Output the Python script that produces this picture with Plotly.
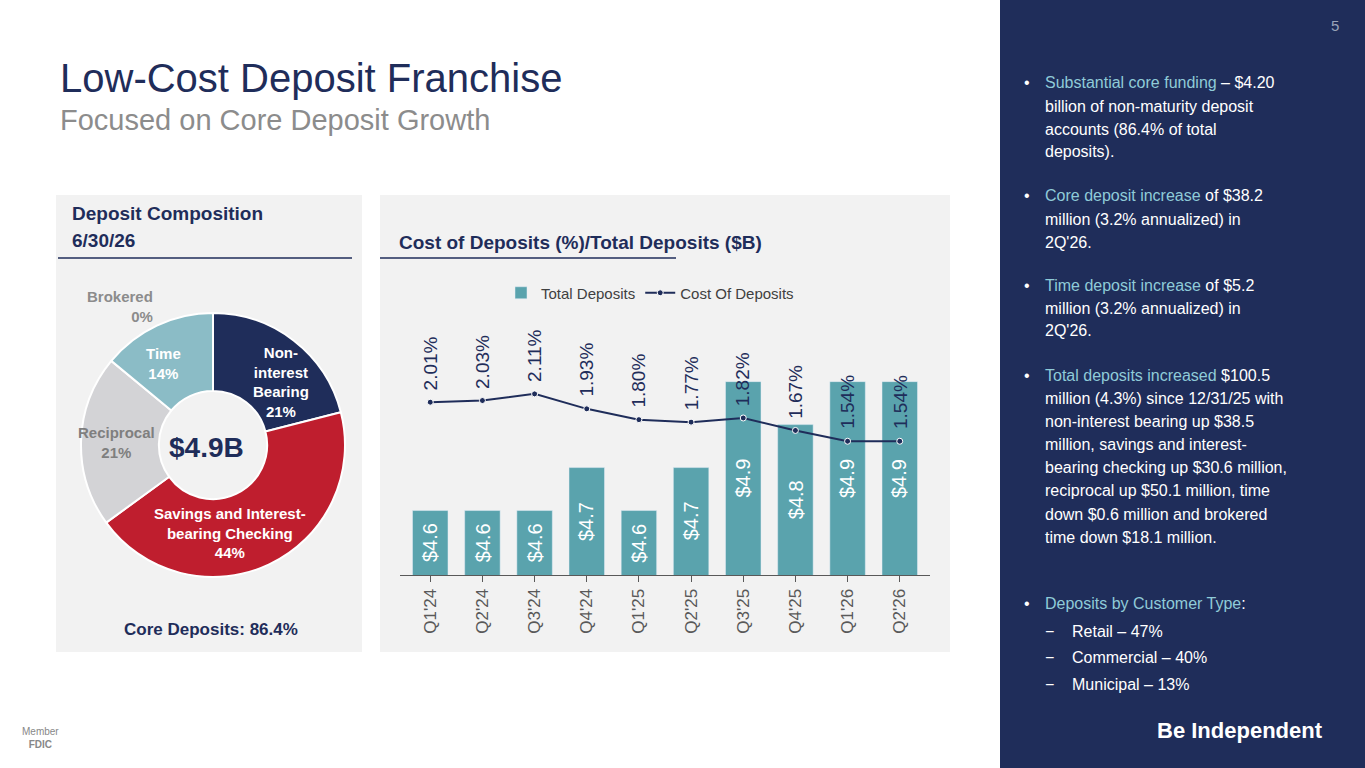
import plotly.graph_objects as go

W, H = 1365, 768
def px(x): return x / W
def py(y): return 1 - y / H

quarters = ["Q1'24","Q2'24","Q3'24","Q4'24","Q1'25","Q2'25","Q3'25","Q4'25","Q1'26","Q2'26"]
total_deposits = [4.6,4.6,4.6,4.7,4.6,4.7,4.9,4.8,4.9,4.9]
cost_of_deposits = [2.01,2.03,2.11,1.93,1.80,1.77,1.82,1.67,1.54,1.54]
bar_base = 4.45

comp_labels = ["Non-<br>interest<br>Bearing", "Savings and Interest-<br>bearing Checking", "Reciprocal", "Time", "Brokered"]
comp_values = [21, 44, 21, 14, 0]
comp_colors = ["#1f2d5a", "#bf1e2e", "#d3d3d6", "#8bbcc6", "#999999"]
comp_label_pos = [(281, 382, "center"), (230, 533, "center"), (116, 442, "center"), (163, 363, "center"), (155, 307, "right")]

NAVY = "#1f2d5a"
TEAL = "#5aa3ad"
HL = "#8fcbd8"

fig = go.Figure()

fig.add_trace(go.Pie(values=comp_values, labels=comp_labels, marker=dict(colors=comp_colors, line=dict(color="white", width=2)),
                     hole=0.41, sort=False, direction="clockwise", rotation=0, textinfo="none",
                     domain=dict(x=[px(81), px(345)], y=[py(577), py(313)]), showlegend=False, hoverinfo="label+percent"))

fig.add_trace(go.Bar(x=quarters, y=total_deposits, name="Total Deposits", marker_color=TEAL, width=0.68,
                     textposition="none", xaxis="x", yaxis="y"))
fig.add_trace(go.Scatter(x=quarters, y=cost_of_deposits, name="Cost Of Deposits", mode="lines+markers",
                         line=dict(color=NAVY, width=2), marker=dict(size=6, color=NAVY, line=dict(color="white", width=1)),
                         xaxis="x", yaxis="y2"))

ann = []
for q, v in zip(quarters, total_deposits):
    ann.append(dict(x=q, y=(v + bar_base) / 2, xref="x", yref="y", text=f"${v:.1f}", textangle=-90, showarrow=False,
                    xanchor="center", yanchor="middle", font=dict(size=20, color="white", family="Arial")))
for q, v in zip(quarters, cost_of_deposits):
    ann.append(dict(x=q, y=v, xref="x", yref="y2", text=f"{v:.2f}%", textangle=-90, showarrow=False,
                    yanchor="bottom", yshift=10, font=dict(size=19, color=NAVY, family="Arial")))

for (lab, val, (x, y, anc)) in zip(comp_labels, comp_values, comp_label_pos):
    col = "white"
    if lab == "Brokered": col = "#8c8c8c"
    if lab == "Reciprocal": col = "#7f7f7f"
    ann.append(dict(x=px(x), y=py(y), xref="paper", yref="paper", text=f"<b>{lab}<br>{val}%</b>", showarrow=False,
                    xanchor=anc, align=anc, yanchor="middle", font=dict(size=15, color=col, family="Arial")))

def txt(x, y, s, size, color, anchor="left", bold=False):
    ann.append(dict(x=px(x), y=py(y), xref="paper", yref="paper", text=(f"<b>{s}</b>" if bold else s), showarrow=False,
                    xanchor=anchor, yanchor="middle", font=dict(size=size, color=color, family="Arial")))

txt(58, 78, "Low-Cost Deposit Franchise", 40, NAVY)
txt(58, 120, "Focused on Core Deposit Growth", 29, "#8c8c8c")
txt(70, 213, "Deposit Composition", 19, NAVY, bold=True)
txt(70, 241, "6/30/26", 19, NAVY, bold=True)
txt(397, 242, "Cost of Deposits (%)/Total Deposits ($B)", 19, NAVY, bold=True)
txt(211, 629, "Core Deposits: 86.4%", 17, NAVY, "center", True)
txt(207, 447, "$4.9B", 28, NAVY, "center", True)
txt(1335, 25, "5", 15, "#9aa3b8", "center")
txt(1240, 730, "Be Independent", 22, "white", "center", True)
txt(20, 738, "Member<br><b>FDIC</b>", 10, "#888888")

W_ = "white"
def span(s, c): return f"<span style='color:{c}'>{s}</span>"
lines = [
    (83, span("Substantial core funding", HL) + " – $4.20", True),
    (106, "billion of non-maturity deposit", False),
    (129, "accounts (86.4% of total", False),
    (152, "deposits).", False),
    (196, span("Core deposit increase", HL) + " of $38.2", True),
    (219, "million (3.2% annualized) in", False),
    (242, "2Q'26.", False),
    (285, span("Time deposit increase", HL) + " of $5.2", True),
    (308, "million (3.2% annualized) in", False),
    (331, "2Q'26.", False),
    (375, span("Total deposits increased", HL) + " $100.5", True),
    (398, "million (4.3%) since 12/31/25 with", False),
    (421, "non-interest bearing up $38.5", False),
    (444, "million, savings and interest-", False),
    (467, "bearing checking up $30.6 million,", False),
    (490, "reciprocal up $50.1 million, time", False),
    (514, "down $0.6 million and brokered", False),
    (537, "time down $18.1 million.", False),
    (603, span("Deposits by Customer Type", HL) + ":", True),
]
for y, s, b in lines:
    if b: txt(1022, y, "•", 16, W_)
    txt(1043, y, s, 16, W_)
for y, s in [(631, "Retail – 47%"), (657, "Commercial – 40%"), (684, "Municipal – 13%")]:
    txt(1043, y, "−", 16, W_)
    txt(1070, y, s, 16, W_)

shapes = [
    dict(type="rect", xref="paper", yref="paper", x0=px(1000), x1=1, y0=0, y1=1, fillcolor=NAVY, line_width=0, layer="below"),
    dict(type="rect", xref="paper", yref="paper", x0=px(56), x1=px(362), y0=py(652), y1=py(195), fillcolor="#f2f2f2", line_width=0, layer="below"),
    dict(type="rect", xref="paper", yref="paper", x0=px(380), x1=px(950), y0=py(652), y1=py(195), fillcolor="#f2f2f2", line_width=0, layer="below"),
    dict(type="line", xref="paper", yref="paper", x0=px(58), x1=px(352), y0=py(258), y1=py(258), line=dict(color=NAVY, width=1.5)),
    dict(type="line", xref="paper", yref="paper", x0=px(380), x1=px(676), y0=py(258), y1=py(258), line=dict(color=NAVY, width=1.5)),
]

fig.update_layout(
    width=W, height=H, margin=dict(l=0, r=0, t=0, b=0), paper_bgcolor="white", plot_bgcolor="rgba(0,0,0,0)",
    font=dict(family="Arial"),
    xaxis=dict(domain=[px(400), px(930)], tickangle=-90, tickfont=dict(size=17, color="#595959"), showline=True,
               linecolor="#595959", ticks="outside", ticklen=6, tickcolor="#595959", showgrid=False),
    yaxis=dict(domain=[py(575), py(300)], range=[bar_base, 5.09], visible=False),
    yaxis2=dict(overlaying="y", range=[-0.07, 3.24], visible=False),
    legend=dict(orientation="h", x=px(650), y=py(293), xanchor="center", yanchor="middle", bgcolor="rgba(0,0,0,0)",
                font=dict(size=15, color="#404040")),
    annotations=ann, shapes=shapes, bargap=0.3,
)
fig.write_html("out.html", config={"displayModeBar": False},
               post_script="document.body.style.margin='0';document.body.style.overflow='hidden';")
